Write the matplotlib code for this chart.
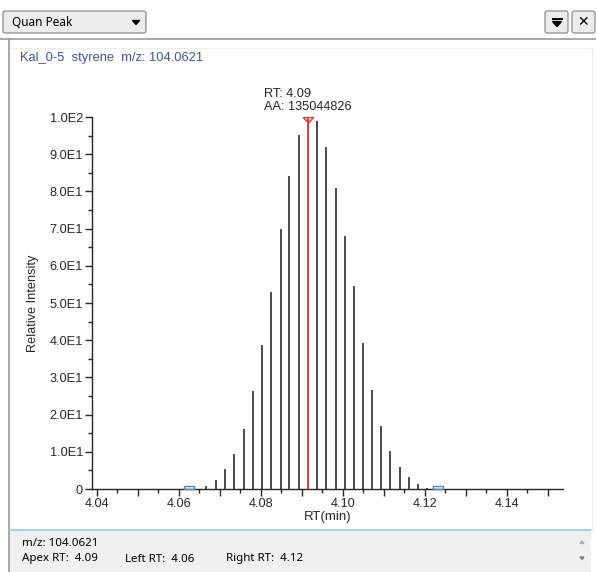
"""Quan Peak 画面の再現"""

import matplotlib

matplotlib.use("Agg")
import matplotlib.pyplot as plt
import numpy as np
from matplotlib.lines import Line2D
from matplotlib.patches import FancyBboxPatch, Polygon, Rectangle
from matplotlib.ticker import FuncFormatter, MultipleLocator

# データ
rt_min = [
    4.0667, 4.0691, 4.0714, 4.0736, 4.0759, 4.0782, 4.0802, 4.0825, 4.0849,
    4.0870, 4.0893, 4.0915, 4.0938, 4.0960, 4.0983, 4.1005, 4.1027, 4.1049,
    4.1072, 4.1094, 4.1116, 4.1139, 4.1161, 4.1184, 4.1206,
]
rel_intensity = [
    0.9, 2.3, 5.5, 9.4, 16.2, 26.3, 38.7, 53.0, 70.0,
    84.2, 95.2, 100.0, 99.0, 92.0, 80.9, 68.1, 54.7, 39.3,
    26.5, 17.0, 10.3, 6.0, 3.1, 1.3, 0.4,
]
left_rt = 4.0626
right_rt = 4.1233
peak_area = 135044826
compound = "Kal_0-5  styrene  m/z: 104.0621"
mz = "104.0621"

W, H = 596, 572
AX_FONT = ["Liberation Sans", "DejaVu Sans"]
UI_FONT = ["Noto Sans", "DejaVu Sans"]
BLACK = "#262626"


def fx(x):
    return x / W


def fy(y):
    return 1 - y / H


def sci_fmt(v, pos=None):
    if v == 0:
        return "0"
    e = int(np.floor(np.log10(abs(v)) + 1e-9))
    return f"{v / 10**e:.1f}E{e}"


fig = plt.figure(figsize=(W / 100, H / 100), dpi=100)
fig.patch.set_facecolor("white")

# --- 画面の枠など ---
fig.add_artist(Line2D([fx(0), fx(596)], [fy(39), fy(39)], color="#9a9a9a", lw=1.2))
fig.add_artist(Line2D([fx(8.5), fx(8.5)], [fy(39), fy(572)], color="#9a9a9a", lw=1.2))
fig.add_artist(Line2D([fx(12), fx(592)], [fy(47.5), fy(47.5)], color="#eeeeee", lw=0.8))
fig.add_artist(Line2D([fx(592), fx(592)], [fy(47.5), fy(530)], color="#eeeeee", lw=0.8))

# ドロップダウン
fig.add_artist(FancyBboxPatch((fx(3), fy(33)), fx(143), 22 / H,
                              boxstyle="round,pad=0,rounding_size=0.004",
                              facecolor="#ececec", edgecolor="#8c8c8c", lw=0.9))
fig.text(fx(12), fy(22.5), "Quan Peak", family=UI_FONT, fontsize=8.5,
         color="black", ha="left", va="center")
fig.add_artist(Polygon([[fx(132.5), fy(20.5)], [fx(139.5), fy(20.5)], [fx(136), fy(24.5)]],
                       closed=True, color="black"))

# 右上のボタン
for x0 in (545, 572):
    fig.add_artist(FancyBboxPatch((fx(x0), fy(33)), fx(23), 22 / H,
                                  boxstyle="round,pad=0,rounding_size=0.004",
                                  facecolor="#ececec", edgecolor="#8c8c8c", lw=0.9))
fig.add_artist(Line2D([fx(552.5), fx(561.5)], [fy(18.5), fy(18.5)], color="black", lw=1.4))
fig.add_artist(Polygon([[fx(552.5), fy(21.5)], [fx(561.5), fy(21.5)], [fx(557), fy(26.5)]],
                       closed=True, color="black"))
fig.text(fx(583.5), fy(22.5), "✕", family=["DejaVu Sans"], fontsize=10,
         fontweight="bold", color="black", ha="center", va="center")

# 化合物名
fig.text(fx(20), fy(57.5), compound, family=AX_FONT, fontsize=9.3,
         color="#3f51a6", ha="left", va="center")

# 下部パネル
fig.add_artist(Rectangle((fx(9.5), fy(572)), fx(581), 42 / H,
                         facecolor="#f0f0f0", edgecolor="none"))
fig.add_artist(Line2D([fx(9.5), fx(590)], [fy(530), fy(530)], color="#a9d2ea", lw=1.5))
fig.text(fx(22), fy(543.5), f"m/z: {mz}", family=UI_FONT, fontsize=8.3,
         color="black", ha="left", va="center")
apex_rt = rt_min[int(np.argmax(rel_intensity))]
fig.text(fx(22), fy(559), f"Apex RT:  {apex_rt:.2f}", family=UI_FONT,
         fontsize=8.3, color="black", ha="left", va="center")
fig.text(fx(125), fy(559), f"Left RT:  {left_rt:.2f}", family=UI_FONT,
         fontsize=8.3, color="black", ha="left", va="center")
fig.text(fx(226.5), fy(559), f"Right RT:  {right_rt:.2f}", family=UI_FONT,
         fontsize=8.3, color="black", ha="left", va="center")
fig.add_artist(Polygon([[fx(580), fy(543.5)], [fx(584), fy(543.5)], [fx(582), fy(541)]],
                       closed=True, color="#b0b0b0"))
fig.add_artist(Polygon([[fx(580), fy(557)], [fx(584), fy(557)], [fx(582), fy(559.5)]],
                       closed=True, color="#808080"))

# --- クロマトグラム ---
ax = fig.add_axes([fx(91.7), fy(489), (563 - 91.7) / W, (489 - 117) / H])
ax.set_facecolor("white")

rt = np.array(rt_min)
inten = np.array(rel_intensity)
apex = int(np.argmax(inten))

ax.vlines(rt, 0, inten, color="#333333", lw=1.25)
ax.vlines(rt[apex], 0, inten[apex], color="#e8403a", lw=1.3, zorder=3)

# 頂点マーカー (下向き三角)
tri = [(-1, 0), (1, 0), (0, -1.1), (-1, 0)]
ax.plot([rt[apex]], [inten[apex]], marker=tri, ms=8.0, mfc="none",
        mec="#e8403a", mew=1.1, clip_on=False, zorder=4)
ax.annotate(f"RT: {rt[apex]:.2f}\nAA: {peak_area}", xy=(rt[apex], inten[apex]),
            xytext=(0, 3), textcoords="offset points", ha="center", va="bottom",
            multialignment="left", linespacing=1.05, family=AX_FONT,
            fontsize=9.2, color=BLACK, annotation_clip=False)

# ピーク境界マーカー
box = [(-1, 0), (1, 0), (1, 0.6), (-1, 0.6), (-1, 0)]
ax.plot([left_rt, right_rt], [0, 0], linestyle="none", marker=box, ms=7.2,
        mfc="none", mec="#4f86c6", mew=1.0, clip_on=False, zorder=4)

ax.set_xlim(4.03878, 4.15373)
ax.set_ylim(0, 100)
for side in ("top", "right"):
    ax.spines[side].set_visible(False)
for side in ("left", "bottom"):
    ax.spines[side].set_color(BLACK)
    ax.spines[side].set_linewidth(1.0)

ax.xaxis.set_major_locator(MultipleLocator(0.01))
ax.xaxis.set_minor_locator(MultipleLocator(0.005))
ax.xaxis.set_major_formatter(
    FuncFormatter(lambda v, p: f"{v:.2f}" if round(v * 100) % 2 == 0 else ""))
ax.yaxis.set_major_locator(MultipleLocator(10))
ax.yaxis.set_minor_locator(MultipleLocator(5))
ax.yaxis.set_major_formatter(FuncFormatter(sci_fmt))

ax.tick_params(axis="both", which="major", direction="out", length=5.2,
               width=1.0, color=BLACK, labelcolor=BLACK, labelsize=9.2)
ax.tick_params(axis="both", which="minor", direction="out", length=2.8,
               width=1.0, color=BLACK)
ax.tick_params(axis="y", which="major", pad=1)
ax.tick_params(axis="x", which="major", pad=1.5)
for lab in ax.get_xticklabels() + ax.get_yticklabels():
    lab.set_family(AX_FONT)

ax.set_xlabel("RT(min)", family=AX_FONT, fontsize=9.5, color=BLACK, labelpad=0.5)
ax.set_ylabel("Relative Intensity", family=AX_FONT, fontsize=9.2, color=BLACK,
              labelpad=8)

fig.savefig("out.png", dpi=100, facecolor=fig.get_facecolor())
